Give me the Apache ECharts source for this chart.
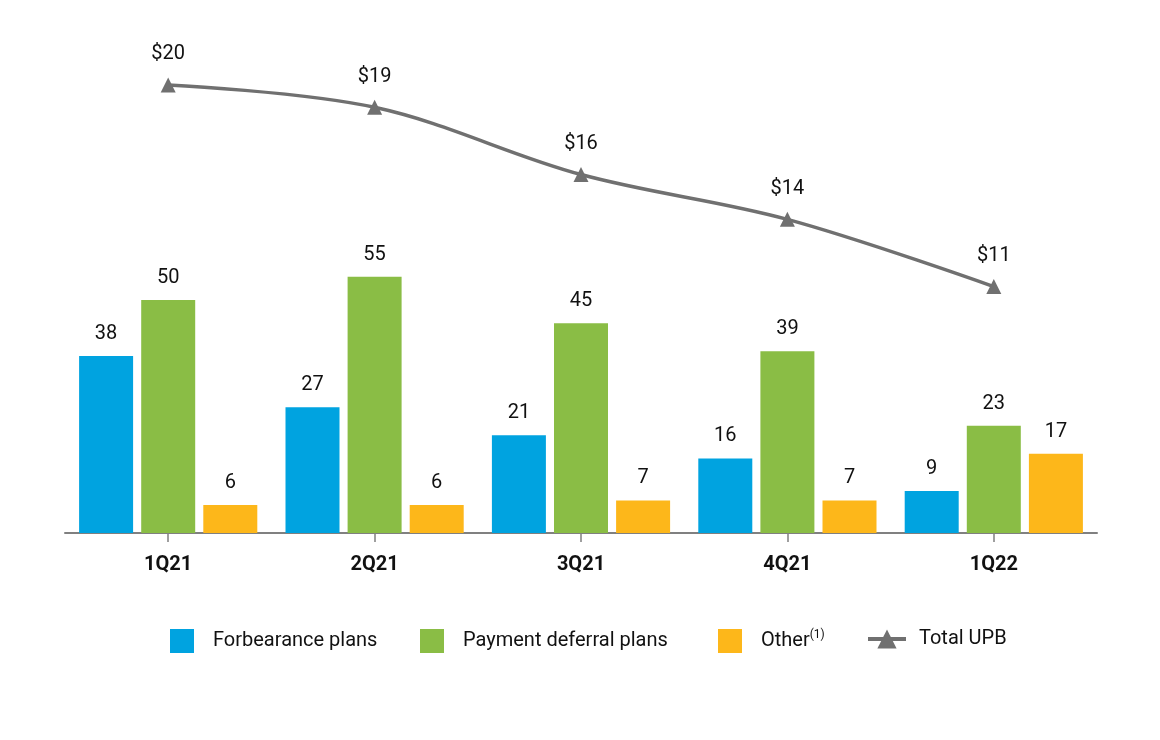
<!DOCTYPE html>
<html><head><meta charset="utf-8">
<script src="https://cdn.jsdelivr.net/npm/echarts@6/dist/echarts.min.js"></script>
<style>html,body{margin:0;padding:0;background:#fff}#c{width:1160px;height:740px}</style>
</head><body><div id="c"></div>
<script>
const categories = ['1Q21','2Q21','3Q21','4Q21','1Q22'];
const forbearance = [38, 27, 21, 16, 9];
const deferral = [50, 55, 45, 39, 23];
const other = [6, 6, 7, 7, 17];
const totalUPB = [20, 19, 16, 14, 11];
const seriesNames = ['Forbearance plans', 'Payment deferral plans', 'Other', 'Total UPB'];

const FONT = '"Liberation Sans Narrow", Roboto, sans-serif';
const chart = echarts.init(document.getElementById('c'));
const barLabel = {show:true, position:'top', distance:12, color:'#111', fontSize:20, fontFamily:FONT};
const rectIcon = 'path://M0,0M38,24M0,0h24v24h-24z';
const legendLeft = [170, 420, 718, 866];
const legends = seriesNames.map((n, i) => ({
  top: 629, left: legendLeft[i], itemWidth: 38, itemHeight: 24, padding: 0,
  textStyle: {fontSize:20, color:'#111', fontFamily:FONT,
    padding: i === 3 ? [0,0,0,8] : [0,0,0,0],
    rich:{sup:{fontSize:12, verticalAlign:'top', padding:[0,0,12,0], color:'#111', fontFamily:FONT}}},
  formatter: x => x === 'Other' ? 'Other{sup|(1)}' : x,
  data: [i === 3 ? {name:n, lineStyle:{width:4, color:'#707070'}} : {name:n, icon:rectIcon}]
}));
chart.setOption({
  animation:false,
  textStyle:{fontFamily:FONT},
  grid:{left:65, right:63, top:67, bottom:207},
  xAxis:{type:'category', data:categories,
    axisLine:{lineStyle:{color:'#808080', width:2}},
    axisTick:{show:true, alignWithLabel:true, length:9, lineStyle:{color:'#808080', width:1.5}},
    axisLabel:{color:'#111', fontSize:20, fontWeight:'bold', margin:22, fontFamily:FONT}},
  yAxis:[
    {type:'value', min:0, max:100, show:false, splitLine:{show:false}},
    {type:'value', min:0, max:20.8, show:false, splitLine:{show:false}}
  ],
  legend: legends,
  series:[
    {name:seriesNames[0], type:'bar', data:forbearance, barWidth:54, barGap:'15%', itemStyle:{color:'#00a3e0'}, label:barLabel},
    {name:seriesNames[1], type:'bar', data:deferral, barWidth:54, barGap:'15%', itemStyle:{color:'#8abd45'}, label:barLabel},
    {name:seriesNames[2], type:'bar', data:other, barWidth:54, barGap:'15%', itemStyle:{color:'#fdb71a'}, label:barLabel},
    {name:seriesNames[3], type:'line', yAxisIndex:1, data:totalUPB, smooth:0.35,
      symbol:'triangle', symbolSize:15, lineStyle:{color:'#707070', width:3.5}, itemStyle:{color:'#707070'},
      label:{show:true, position:'top', distance:13, color:'#111', fontSize:20, fontFamily:FONT, formatter:p=>'$'+p.value}}
  ]
});
</script></body></html>
